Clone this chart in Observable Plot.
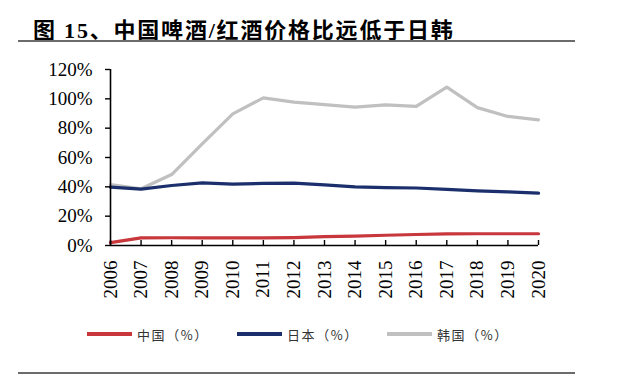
<!DOCTYPE html>
<html><head><meta charset="utf-8">
<script src="https://cdn.jsdelivr.net/npm/d3@7"></script>
<script src="https://cdn.jsdelivr.net/npm/@observablehq/plot@0.6"></script>
<style>
html,body{margin:0;padding:0;background:#fff;}
#wrap{position:relative;width:630px;height:381px;overflow:hidden;}
#title{position:absolute;left:33px;top:12px;font-family:"Liberation Serif","Noto Sans CJK SC",serif;font-weight:bold;font-size:22px;letter-spacing:1.8px;color:#000;white-space:nowrap;}
.rule{position:absolute;left:18px;width:557px;height:2px;background:#6b6b6b;}
#chart{position:absolute;left:0;top:0;}
.leg{position:absolute;top:324px;height:20px;display:flex;align-items:center;font-family:"Noto Sans CJK SC",sans-serif;font-size:13px;letter-spacing:1.6px;color:#333;white-space:nowrap;}
.leg span.sw{display:inline-block;width:45px;height:3.5px;margin-right:5px;}
</style></head>
<body><div id="wrap">
<div id="title">图 15、中国啤酒/红酒价格比远低于日韩</div>
<div class="rule" style="top:40px"></div>
<div id="chart"></div>
<div id="legend"></div>
<div class="rule" style="top:372px"></div>
</div>
<script>
const years = [2006,2007,2008,2009,2010,2011,2012,2013,2014,2015,2016,2017,2018,2019,2020];
const seriesNames = ["中国（%）","日本（%）","韩国（%）"];
const seriesColors = ["#c8373b","#1b2f6c","#c0c0c0"];
const china = [2.0,5.2,5.3,5.2,5.2,5.2,5.4,6.0,6.4,7.0,7.5,7.9,8.0,8.0,8.0];
const japan = [39.8,38.4,40.9,42.7,41.8,42.3,42.5,41.4,40.0,39.5,39.2,38.2,37.3,36.6,35.7];
const korea = [41.6,38.7,48.4,69.3,89.8,100.7,97.7,96.1,94.3,95.9,94.8,108.0,94.0,88.0,85.7];
const yTicks = [0,20,40,60,80,100,120];

const values = [china, japan, korea];
const data = [];
// draw Korea first (behind), then Japan, then China
[2,1,0].forEach(si => years.forEach((yr,i) => data.push({year: yr, value: values[si][i], series: seriesNames[si]})));

const chart = Plot.plot({
  width: 630, height: 381,
  marginLeft: 110, marginRight: 92, marginTop: 69, marginBottom: 136,
  style: {fontFamily: '"Liberation Serif", serif', fontSize: "19px", color: "#000", background: "transparent"},
  x: {type: "linear", domain: [2006, 2020]},
  y: {domain: [0, 120]},
  color: {domain: seriesNames, range: seriesColors},
  marks: [
    Plot.line(data, {x: "year", y: "value", z: "series", stroke: "series", strokeWidth: 3.2, strokeLinejoin: "round"}),
    Plot.ruleX([2006], {stroke: "#000", strokeWidth: 1.6}),
    Plot.ruleY([0], {stroke: "#000", strokeWidth: 1.6}),
    Plot.tickX(years, {x: d => d, insetTop: 171, stroke: "#000", strokeWidth: 1.4}),
    Plot.axisY(yTicks, {tickFormat: d => d + "%", tickSize: 5, tickPadding: 13, stroke: "#000", strokeWidth: 1.4, fill: "#000", label: null}),
    Plot.axisX(years, {tickFormat: d => String(d), tickSize: 0, tickPadding: 15, tickRotate: -90, fill: "#000", label: null})
  ]
});
document.getElementById("chart").appendChild(chart);

const legPos = [87, 237, 387];
const leg = document.getElementById("legend");
seriesNames.forEach((n,i) => {
  const d = document.createElement("div");
  d.className = "leg";
  d.style.left = legPos[i] + "px";
  d.innerHTML = `<span class="sw" style="background:${seriesColors[i]}"></span>${n}`;
  leg.appendChild(d);
});
</script>
</body></html>
